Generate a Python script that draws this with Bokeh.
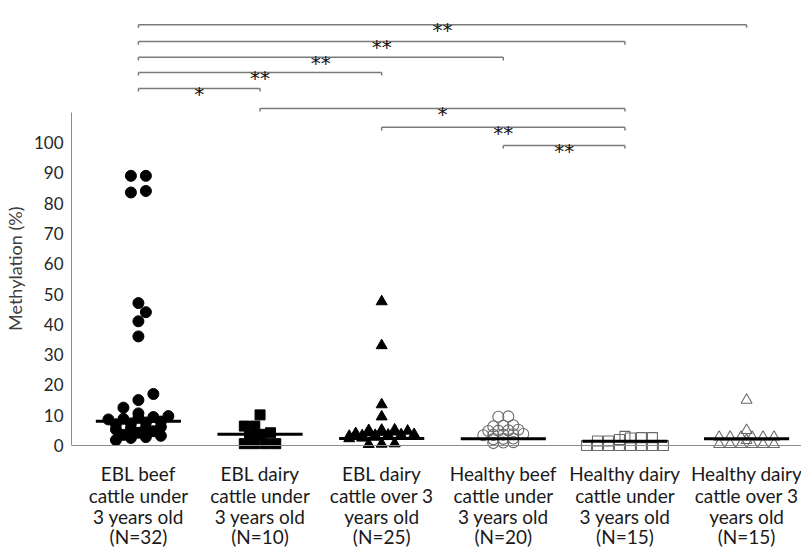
from bokeh.plotting import figure
from bokeh.models import FixedTicker, ColumnDataSource, Span
from bokeh.core.properties import value
from bokeh.embed import file_html
from bokeh.resources import INLINE

# ---------------- data ----------------
cat_lines = [
    ["EBL beef", "cattle under", "3 years old", "(N=32)"],
    ["EBL dairy", "cattle under", "3 years old", "(N=10)"],
    ["EBL dairy", "cattle over 3", "years old", "(N=25)"],
    ["Healthy beef", "cattle under", "3 years old", "(N=20)"],
    ["Healthy dairy", "cattle under", "3 years old", "(N=15)"],
    ["Healthy dairy", "cattle over 3", "years old", "(N=15)"],
]

ebl_beef_u3 = [89, 89, 84, 83.5, 47, 44, 41, 36, 17, 15, 12.5, 10.6, 9.7, 9.4,
               9.1, 8.8, 8.6, 7.9, 7.6, 7.3, 7.0, 6.1, 5.8, 5.6, 5.3, 4.7, 4.2,
               3.5, 3.2, 2.8, 2.5, 1.8]
ebl_dairy_u3 = [10.1, 6.4, 6.4, 4.2, 3.7, 3.7, 0.6, 0.6, 0.6, 0.6]
ebl_dairy_o3 = [47.5, 33, 13.5, 9.5, 5.2, 5.0, 4.8, 5.1, 4.5, 4.2, 4.4, 4.0,
                3.5, 3.7, 3.3, 3.6, 3.4, 3.0, 2.8, 3.1, 2.5, 2.3, 0.5, 0.4, 0.6]
healthy_beef_u3 = [9.6, 9.5, 6.7, 6.3, 6.5, 5.2, 5.0, 4.8, 4.9, 3.8, 3.6, 3.4,
                   3.7, 3.5, 2.3, 2.1, 2.2, 1.0, 0.8, 1.1]
healthy_dairy_u3 = [3.0, 2.6, 2.6, 2.5, 2.0, 1.5, 1.5, 0.0, 0.0, 0.0, 0.0, 0.0,
                    0.0, 0.0, 0.0]
healthy_dairy_o3 = [15, 5.0, 2.8, 2.8, 2.8, 2.8, 2.8, 2.8, 1.7, 0.4, 0.4, 0.4,
                    0.4, 0.4, 0.4]

medians = [8.0, 3.7, 2.3, 2.2, 1.4, 2.2]

sig_pairs = [(0, 5), (0, 4), (0, 3), (0, 2), (0, 1), (1, 4), (2, 4), (3, 4)]
sig_levels = [138.9, 133.3, 128.1, 123.1, 117.8, 111.2, 105.0, 99.0]
sig_marks = ["**", "**", "**", "**", "*", "*", "**", "**"]

y_ticks = [0, 10, 20, 30, 40, 50, 60, 70, 80, 90, 100]
y_title = "Methylation (%)"

# ---------------- layout constants (canvas pixels) ----------------
W, H = 801, 550
PX_PER_X = 121.8
PX_PER_Y = 3.03
ZERO_Y = 445              # canvas y of the 0 % line
FRAME_LEFT = 70
X0 = 137                  # canvas x of the first category

x_start = (FRAME_LEFT - X0) / PX_PER_X
x_end = (W - X0) / PX_PER_X
y_start = -(H - ZERO_Y) / PX_PER_Y
y_end = ZERO_Y / PX_PER_Y


def canvas_y(py):
    return (ZERO_Y - py) / PX_PER_Y


def dot_rows(vals, row_gap, spacing, diam, factor):
    """group close values into rows, spread each row evenly; stagger rows that collide"""
    order = sorted(range(len(vals)), key=lambda k: vals[k])
    rows = []
    for k in order:
        if rows and vals[k] - vals[rows[-1][0]] <= row_gap:
            rows[-1].append(k)
        else:
            rows.append([k])
    offs = [0.0] * len(vals)
    placed = []
    lim2 = (diam * factor) ** 2
    for r in rows:
        n = len(r)
        base = [(j - (n - 1) / 2) * spacing for j in range(n)]
        best = 0.0
        for sh in (0.0, spacing / 2, -spacing / 2, spacing, -spacing):
            if all((bx + sh - a) ** 2 + (vals[k] * PX_PER_Y - b) ** 2 >= lim2
                   for bx, k in zip(base, r) for a, b in placed):
                best = sh
                break
        for bx, k in zip(base, r):
            offs[k] = (bx + best) / PX_PER_X
            placed.append((bx + best, vals[k] * PX_PER_Y))
    return offs


FONT = "Lato"

p = figure(width=W, height=H, output_backend="svg", toolbar_location=None,
           x_range=(x_start, x_end), y_range=(y_start, y_end),
           min_border_left=FRAME_LEFT, min_border_right=0,
           min_border_top=0, min_border_bottom=0)
p.outline_line_color = None
p.xgrid.visible = False
p.ygrid.visible = False
p.background_fill_color = "white"
p.border_fill_color = "white"
p.xaxis.visible = False

# x axis line at 0 %
p.add_layout(Span(location=0, dimension="width", line_color="#8c8c8c", line_width=1))

# y axis
p.yaxis.ticker = FixedTicker(ticks=y_ticks)
p.yaxis.bounds = (0, 110)
p.yaxis.axis_line_color = "#8c8c8c"
p.yaxis.major_tick_line_color = None
p.yaxis.minor_tick_line_color = None
p.yaxis.major_tick_out = 0
p.yaxis.major_tick_in = 0
p.yaxis.major_label_standoff = 8
p.yaxis.major_label_text_font = FONT
p.yaxis.major_label_text_font_size = "17px"
p.yaxis.major_label_text_color = "#262626"
# a leading em-space nudges the visible title up to where the reference has it
p.yaxis.axis_label = "\u2003" + y_title
p.yaxis.axis_label_text_font = FONT
p.yaxis.axis_label_text_font_size = "18px"
p.yaxis.axis_label_text_font_style = "normal"
p.yaxis.axis_label_text_color = "#404040"
p.yaxis.axis_label_standoff = 5

# groups
groups = [ebl_beef_u3, ebl_dairy_u3, ebl_dairy_o3, healthy_beef_u3,
          healthy_dairy_u3, healthy_dairy_o3]
styles = [
    dict(marker="circle", size=11, fill_color="black", line_color="black", line_width=1),
    dict(marker="square", size=10, fill_color="black", line_color="black", line_width=1),
    dict(marker="triangle", size=11, fill_color="black", line_color="black", line_width=1),
    dict(marker="circle", size=11, fill_color=None, line_color="#6a6a6a", line_width=1.1),
    dict(marker="square", size=10, fill_color=None, line_color="#6a6a6a", line_width=1.1),
    dict(marker="triangle", size=11, fill_color=None, line_color="#6a6a6a", line_width=1.1),
]
# (row_gap in %, spacing in px, overlap factor)
row_params = [(1.5, 15, 1.0), (1.0, 10.5, 0.9), (0.8, 13, 0.8),
              (0.9, 10, 0.8), (1.2, 11, 0.8), (1.0, 11, 0.8)]
for i, (vals, st, rp) in enumerate(zip(groups, styles, row_params)):
    offs = dot_rows(vals, rp[0], rp[1], st["size"], rp[2])
    src = ColumnDataSource(dict(x=[i + o for o in offs], y=vals))
    p.scatter("x", "y", source=src, **st)

# median lines
p.segment(x0=[i - 0.35 for i in range(len(medians))],
          x1=[i + 0.35 for i in range(len(medians))],
          y0=medians, y1=medians, line_color="black", line_width=3)

# significance brackets
tick = 1.0
bx0, bx1, by0, by1 = [], [], [], []
for (a, b), lv in zip(sig_pairs, sig_levels):
    bx0 += [a, a, b]
    bx1 += [b, a, b]
    by0 += [lv, lv, lv]
    by1 += [lv, lv - tick, lv - tick]
p.segment(x0=bx0, x1=bx1, y0=by0, y1=by1, line_color="#7a7a7a", line_width=1.5)

p.text(x=[(a + b) / 2 for a, b in sig_pairs],
       y=[lv - 1.7 for lv in sig_levels], text=sig_marks,
       text_font=value("DejaVu Sans"), text_font_size="20px", text_color="#111111",
       text_align="center", text_baseline="alphabetic")

# category labels (four lines each, below the 0 % line)
baselines = [473, 494.5, 515.5, 535.5]
lx, ly, lt = [], [], []
for i, lines in enumerate(cat_lines):
    for ln, bl in zip(lines, baselines):
        lx.append(i)
        ly.append(canvas_y(bl))
        lt.append(ln)
p.text(x=lx, y=ly, text=lt, text_font=value(FONT), text_font_size="19px",
       text_color="#1a1a1a", text_align="center", text_baseline="alphabetic")

open("out.html", "w").write(file_html(p, INLINE))
